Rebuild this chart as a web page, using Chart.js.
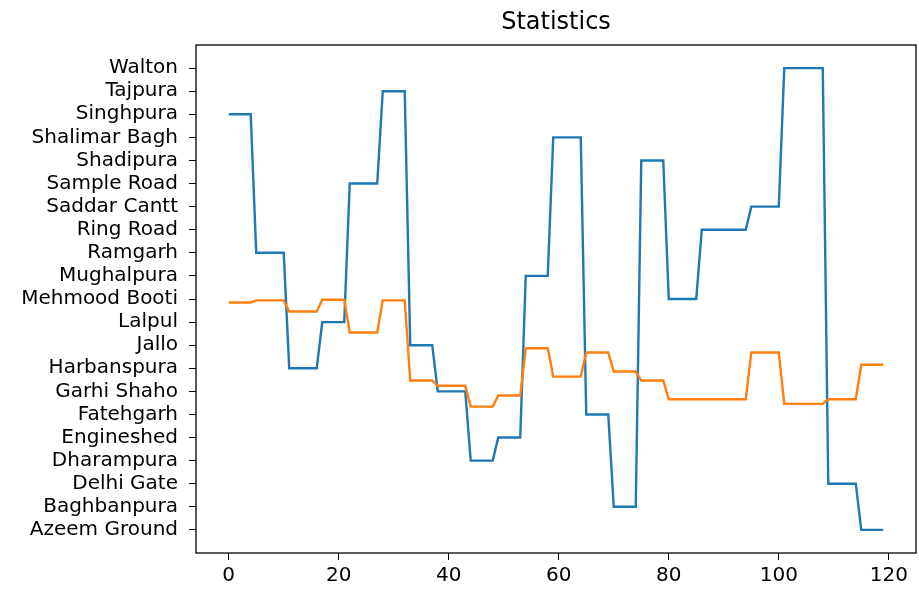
<!DOCTYPE html>
<html lang="en">
<head>
  <meta charset="UTF-8" />
  <title>Statistics</title>
  <script src="https://cdn.jsdelivr.net/npm/chart.js"></script>
  <style>
    body {
      margin: 0;
      background: white;
    }
    #chart {
      display: block;
    }
  </style>
</head>
<body>
  <canvas id="chart" width="919" height="599"></canvas>

  <script>
    // y tick labels, bottom to top
    const places = [
      "Azeem Ground", "Baghbanpura", "Delhi Gate", "Dharampura", "Engineshed",
      "Fatehgarh", "Garhi Shaho", "Harbanspura", "Jallo", "Lalpul",
      "Mehmood Booti", "Mughalpura", "Ramgarh", "Ring Road", "Saddar Cantt",
      "Sample Road", "Shadipura", "Shalimar Bagh", "Singhpura", "Tajpura", "Walton"
    ];

    const chartTitle = "Statistics";

    // blue series: index into places for each sample
    const blueLine = [
      18, 18, 18, 18, 18,
      12, 12, 12, 12, 12, 12,
      7, 7, 7, 7, 7, 7,
      9, 9, 9, 9, 9,
      15, 15, 15, 15, 15, 15,
      19, 19, 19, 19, 19,
      8, 8, 8, 8, 8,
      6, 6, 6, 6, 6, 6,
      3, 3, 3, 3, 3,
      4, 4, 4, 4, 4,
      11, 11, 11, 11, 11,
      17, 17, 17, 17, 17, 17,
      5, 5, 5, 5, 5,
      1, 1, 1, 1, 1,
      16, 16, 16, 16, 16,
      10, 10, 10, 10, 10, 10,
      13, 13, 13, 13, 13, 13, 13, 13, 13,
      14, 14, 14, 14, 14, 14,
      20, 20, 20, 20, 20, 20, 20, 20,
      2, 2, 2, 2, 2, 2,
      0, 0, 0, 0, 0
    ];

    // orange series
    const orangeLine = [
      9.85, 9.85, 9.85, 9.85, 9.85,
      9.94, 9.94, 9.94, 9.94, 9.94, 9.94,
      9.46, 9.46, 9.46, 9.46, 9.46, 9.46,
      9.97, 9.97, 9.97, 9.97, 9.97,
      8.55, 8.55, 8.55, 8.55, 8.55, 8.55,
      9.94, 9.94, 9.94, 9.94, 9.94,
      6.47, 6.47, 6.47, 6.47, 6.47,
      6.24, 6.24, 6.24, 6.24, 6.24, 6.24,
      5.34, 5.34, 5.34, 5.34, 5.34,
      5.82, 5.82, 5.82, 5.82, 5.82,
      7.87, 7.87, 7.87, 7.87, 7.87,
      6.64, 6.64, 6.64, 6.64, 6.64, 6.64,
      7.68, 7.68, 7.68, 7.68, 7.68,
      6.86, 6.86, 6.86, 6.86, 6.86,
      6.47, 6.47, 6.47, 6.47, 6.47,
      5.66, 5.66, 5.66, 5.66, 5.66, 5.66, 5.66, 5.66, 5.66, 5.66, 5.66, 5.66, 5.66, 5.66, 5.66,
      7.68, 7.68, 7.68, 7.68, 7.68, 7.68,
      5.46, 5.46, 5.46, 5.46, 5.46, 5.46, 5.46, 5.46,
      5.66, 5.66, 5.66, 5.66, 5.66, 5.66,
      7.15, 7.15, 7.15, 7.15, 7.15
    ];

    // sample number along x
    const samples = blueLine.map((_, i) => i);

    const FONT = "'DejaVu Sans', sans-serif";

    // matplotlib style box around the plot area, title centred over the axes
    const frame = {
      id: "frame",
      afterDatasetsDraw(chart) {
        const { ctx, chartArea: a } = chart;
        ctx.save();
        ctx.strokeStyle = "#000";
        ctx.lineWidth = 1.3;
        ctx.strokeRect(a.left, a.top, a.right - a.left, a.bottom - a.top);
        ctx.fillStyle = "#000";
        ctx.font = "24px " + FONT;
        ctx.textAlign = "center";
        ctx.textBaseline = "bottom";
        ctx.fillText(chartTitle, (a.left + a.right) / 2, a.top - 10);
        ctx.restore();
      }
    };

    new Chart(document.getElementById("chart"), {
      type: "line",
      data: {
        labels: samples,
        datasets: [
          {
            label: "orange",
            data: orangeLine,
            borderColor: "#ff7f0e",
            borderWidth: 2.4,
            pointRadius: 0,
            tension: 0,
            order: 0
          },
          {
            label: "blue",
            data: blueLine,
            borderColor: "#1f77b4",
            borderWidth: 2.4,
            pointRadius: 0,
            tension: 0,
            order: 1
          }
        ]
      },
      options: {
        responsive: false,
        animation: false,
        layout: { padding: { left: 0, right: 3, top: 45, bottom: 0 } },
        plugins: {
          legend: { display: false },
          tooltip: { enabled: false },
          title: { display: false }
        },
        scales: {
          x: {
            type: "linear",
            min: -5.95,
            max: 124.95,
            grid: { drawOnChartArea: false, drawTicks: true, tickLength: 7, color: "#000" },
            border: { display: false },
            ticks: {
              stepSize: 20,
              includeBounds: false,
              color: "#000",
              padding: 4,
              maxRotation: 0,
              font: { family: FONT, size: 20 }
            },
            afterFit(scale) { scale.height = 46; }
          },
          y: {
            type: "linear",
            min: -1,
            max: 21,
            grid: { drawOnChartArea: false, drawTicks: true, tickLength: 7, color: "#000" },
            border: { display: false },
            afterBuildTicks(scale) {
              scale.ticks = scale.ticks.filter(t => t.value >= 0 && t.value <= places.length - 1);
            },
            ticks: {
              stepSize: 1,
              autoSkip: false,
              color: "#000",
              padding: 11,
              font: { family: FONT, size: 20 },
              callback: v => places[v] ?? ""
            },
            afterFit(scale) { scale.width = 196; }
          }
        }
      },
      plugins: [frame]
    });
  </script>
</body>
</html>
